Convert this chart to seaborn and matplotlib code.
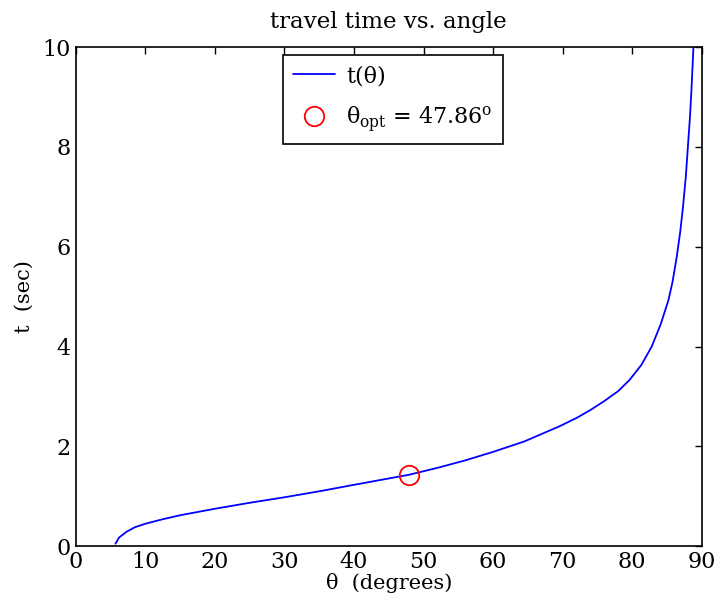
import numpy as np
import pandas as pd
import seaborn as sns
import matplotlib.pyplot as plt

# values
theta = [5.7, 6.2, 7.3, 8.5, 10, 12.5, 15, 20, 25, 30, 35, 40, 47.86, 52, 56, 60, 64.5,
         67, 69.5, 72, 74, 76, 78, 79.6, 81.3, 82.8, 84.1, 85.2, 85.8, 86.4, 86.9,
         87.3, 87.7, 88.0, 88.3, 88.5, 88.8]
t = [0.05, 0.17, 0.29, 0.38, 0.45, 0.54, 0.62, 0.75, 0.87, 0.98, 1.1, 1.23, 1.43,
     1.57, 1.72, 1.89, 2.1, 2.25, 2.4, 2.57, 2.73, 2.91, 3.11, 3.33, 3.63, 4.0, 4.45,
     4.93, 5.3, 5.8, 6.3, 6.8, 7.4, 8.0, 8.6, 9.1, 10.0]
theta_opt = [47.86]
t_opt = [1.43]

df = pd.DataFrame({'theta': theta, 't': t})

sns.set_style('white')
plt.rcParams['font.family'] = ['DejaVu Serif']
plt.rcParams['mathtext.fontset'] = 'dejavuserif'
plt.rcParams['text.color'] = 'black'
plt.rcParams['axes.labelcolor'] = 'black'

fig = plt.figure(figsize=(7.22, 6.13), dpi=100)
ax = fig.add_axes([0.105, 0.109, 0.867, 0.814])

sns.lineplot(data=df, x='theta', y='t', ax=ax, color='blue', lw=1.3,
             sort=False, estimator=None, label='t(θ)')
ax.plot(theta_opt, t_opt, 'o', mfc='none', mec='red', ms=14, mew=1.3,
        label=r'θ$_{\rm opt}$ = 47.86$^{\rm o}$')

ax.set_xlim(0, 90)
ax.set_ylim(0, 10)
ax.set_xticks(np.arange(0, 91, 10))
ax.set_yticks(np.arange(0, 11, 2))
ax.tick_params(direction='in', top=True, right=True, length=5, width=1,
               labelsize=16, colors='black')
for s in ax.spines.values():
    s.set_color('black')
    s.set_linewidth(1.2)

ax.set_title('travel time vs. angle', fontsize=16.5, pad=14)
ax.set_xlabel('θ  (degrees)', fontsize=15, labelpad=0)
ax.set_ylabel('t  (sec)', fontsize=15, labelpad=6)

leg = ax.legend(loc='upper left', bbox_to_anchor=(0.331, 0.984), fontsize=16,
                frameon=True, fancybox=False, edgecolor='black', framealpha=1,
                handlelength=1.9, borderpad=0.45, labelspacing=0.75,
                handletextpad=0.5, borderaxespad=0)
leg.get_frame().set_linewidth(1.2)

fig.savefig('out.png', dpi=100)
